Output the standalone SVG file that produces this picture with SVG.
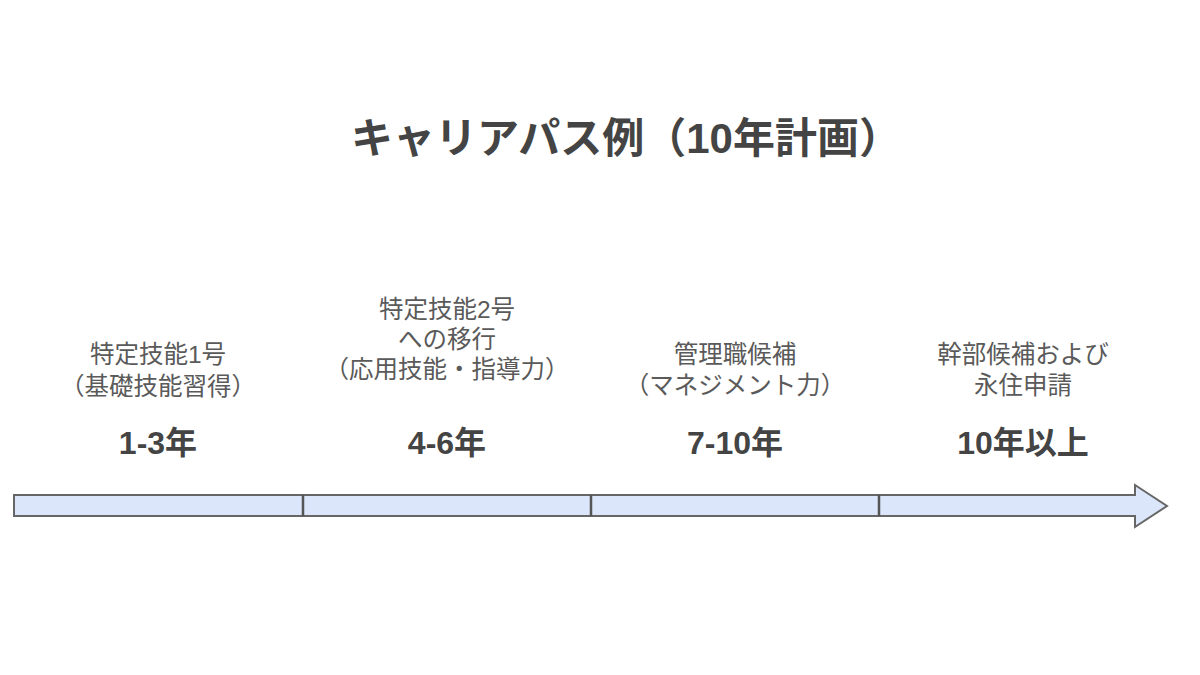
<svg xmlns="http://www.w3.org/2000/svg" width="1200" height="675" viewBox="0 0 1200 675">
<style>
.title{font-family:"Liberation Sans","Noto Sans CJK JP",sans-serif;font-size:42px;font-weight:bold;fill:#444;text-anchor:middle}
.lbl{font-family:"Liberation Sans","Noto Sans CJK JP",sans-serif;font-size:24.5px;fill:#5a5a5a;text-anchor:middle}
.yr{font-family:"Liberation Sans","Noto Sans CJK JP",sans-serif;font-size:32px;font-weight:bold;fill:#444;text-anchor:middle}
.bar{fill:#dce6fa;stroke:#666;stroke-width:2;stroke-linejoin:miter}
.div{stroke:#555;stroke-width:2.5}
</style>
<rect width="1200" height="675" fill="#fff"/>
<text id="title" class="title" x="626" y="153">キャリアパス例（10年計画）</text>
<g id="connectors">
<polygon class="bar" points="14,495 1135,495 1135,485 1167,506 1135,527 1135,516 14,516"/>
<line class="div" x1="303" y1="495" x2="303" y2="516"/>
<line class="div" x1="591" y1="495" x2="591" y2="516"/>
<line class="div" x1="879" y1="495" x2="879" y2="516"/>
</g>
<g id="stage1">
<text class="lbl"><tspan x="158" y="363">特定技能1号</tspan><tspan x="158" y="395">（基礎技能習得）</tspan></text>
<text class="yr" x="158" y="454">1-3年</text>
</g>
<g id="stage2">
<text class="lbl"><tspan x="447" y="318">特定技能2号</tspan><tspan x="447" y="348">への移行</tspan><tspan x="447" y="378">（応用技能・指導力）</tspan></text>
<text class="yr" x="447" y="454">4-6年</text>
</g>
<g id="stage3">
<text class="lbl"><tspan x="735" y="363">管理職候補</tspan><tspan x="735" y="394">（マネジメント力）</tspan></text>
<text class="yr" x="735" y="454">7-10年</text>
</g>
<g id="stage4">
<text class="lbl"><tspan x="1023" y="363">幹部候補および</tspan><tspan x="1023" y="394">永住申請</tspan></text>
<text class="yr" x="1023" y="454">10年以上</text>
</g>
</svg>
